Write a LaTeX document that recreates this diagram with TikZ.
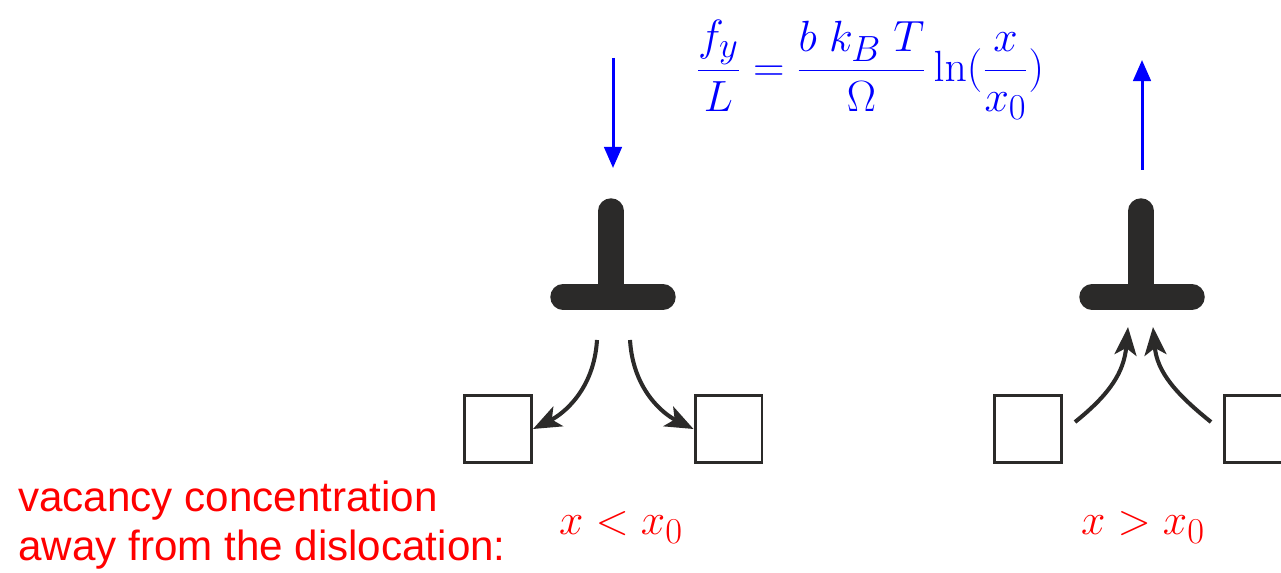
\documentclass[tikz,border=0pt]{standalone}
\usepackage[no-math]{fontspec}
\newfontfamily\arial{Liberation Sans}
\usepackage{amsmath}
\usetikzlibrary{arrows.meta, positioning}
\definecolor{ink}{HTML}{2B2A29}

\begin{document}
\begin{tikzpicture}[x=0.02cm, y=-0.02cm,
    disl/.style={draw=ink, line width=14.5pt, line cap=round},
    vac/.style={draw=ink, line width=1.7pt, minimum size=1.34cm, inner sep=0pt},
    flow/.style={draw=ink, line width=2.3pt, -{Stealth[length=16pt, width=12.5pt, inset=4pt]}},
    force/.style={draw=blue, line width=1.7pt, -{Triangle[length=12pt, width=10pt]}},
    lbl/.style={text=red, font=\fontsize{24.88}{30}\selectfont},
    note/.style={text=red, anchor=base west, font=\arial\fontsize{24}{28}\selectfont}]
    \useasboundingbox (0,0) rectangle (1281,573);
    \clip (0,0) rectangle (1281,573);

    % dislocations
    \coordinate (dl) at (613,297);
    \coordinate (dr) at (1142,297);
    \draw[disl] (dl) ++(-50,0) -- ++(100,0) (dl) ++(-2,0) -- ++(0,-86);
    \draw[disl] (dr) ++(-50,0) -- ++(100,0) (dr) ++(-1,0) -- ++(0,-86);

    % vacancies
    \node[vac] (vll) at (498,429) {};
    \node[vac] (vlr) at (728.5,429) {};
    \node[vac] (vrl) at (1027.5,429) {};
    \node[vac] (vrr) at (1257.5,429) {};

    \coordinate (el) at (597,340);
    \coordinate (er) at (630,340);
    \coordinate (al) at (1128,327);
    \coordinate (ar) at (1153,327);
    \coordinate (sl) at (1075,422);
    \coordinate (sr) at (1211,422);

    \draw[flow] (el) .. controls +(-3,50) and +(30,-15) .. (vll.east);
    \draw[flow] (er) .. controls +(3,50) and +(-30,-15) .. (vlr.west);
    \draw[flow] (sl) .. controls +(35,-28) and +(-4,45) .. (al);
    \draw[flow] (sr) .. controls +(-35,-28) and +(4,45) .. (ar);

    % forces
    \coordinate (fl0) at (613,58);
    \coordinate (fl1) at (613,168);
    \coordinate (fr0) at (1142,170);
    \coordinate (fr1) at (1142,60);
    \draw[force] (fl0) -- (fl1);
    \draw[force] (fr0) -- (fr1);

    \node[text=blue, font=\fontsize{24.88}{30}\selectfont] (eq) at (870,70)
        {$\dfrac{f_y}{L} = \dfrac{b\;k_B\;T}{\Omega}\ln(\dfrac{x}{x_0})$};

    \node[lbl, anchor=base] (lo) at (621,535) {$x < x_0$};
    \node[lbl, anchor=base] (hi) at (1143,535) {$x > x_0$};
    \node[note] (n1) at (12,512) {vacancy concentration};
    \node[note] (n2) at (12,561) {away from the dislocation:};
\end{tikzpicture}
\end{document}
